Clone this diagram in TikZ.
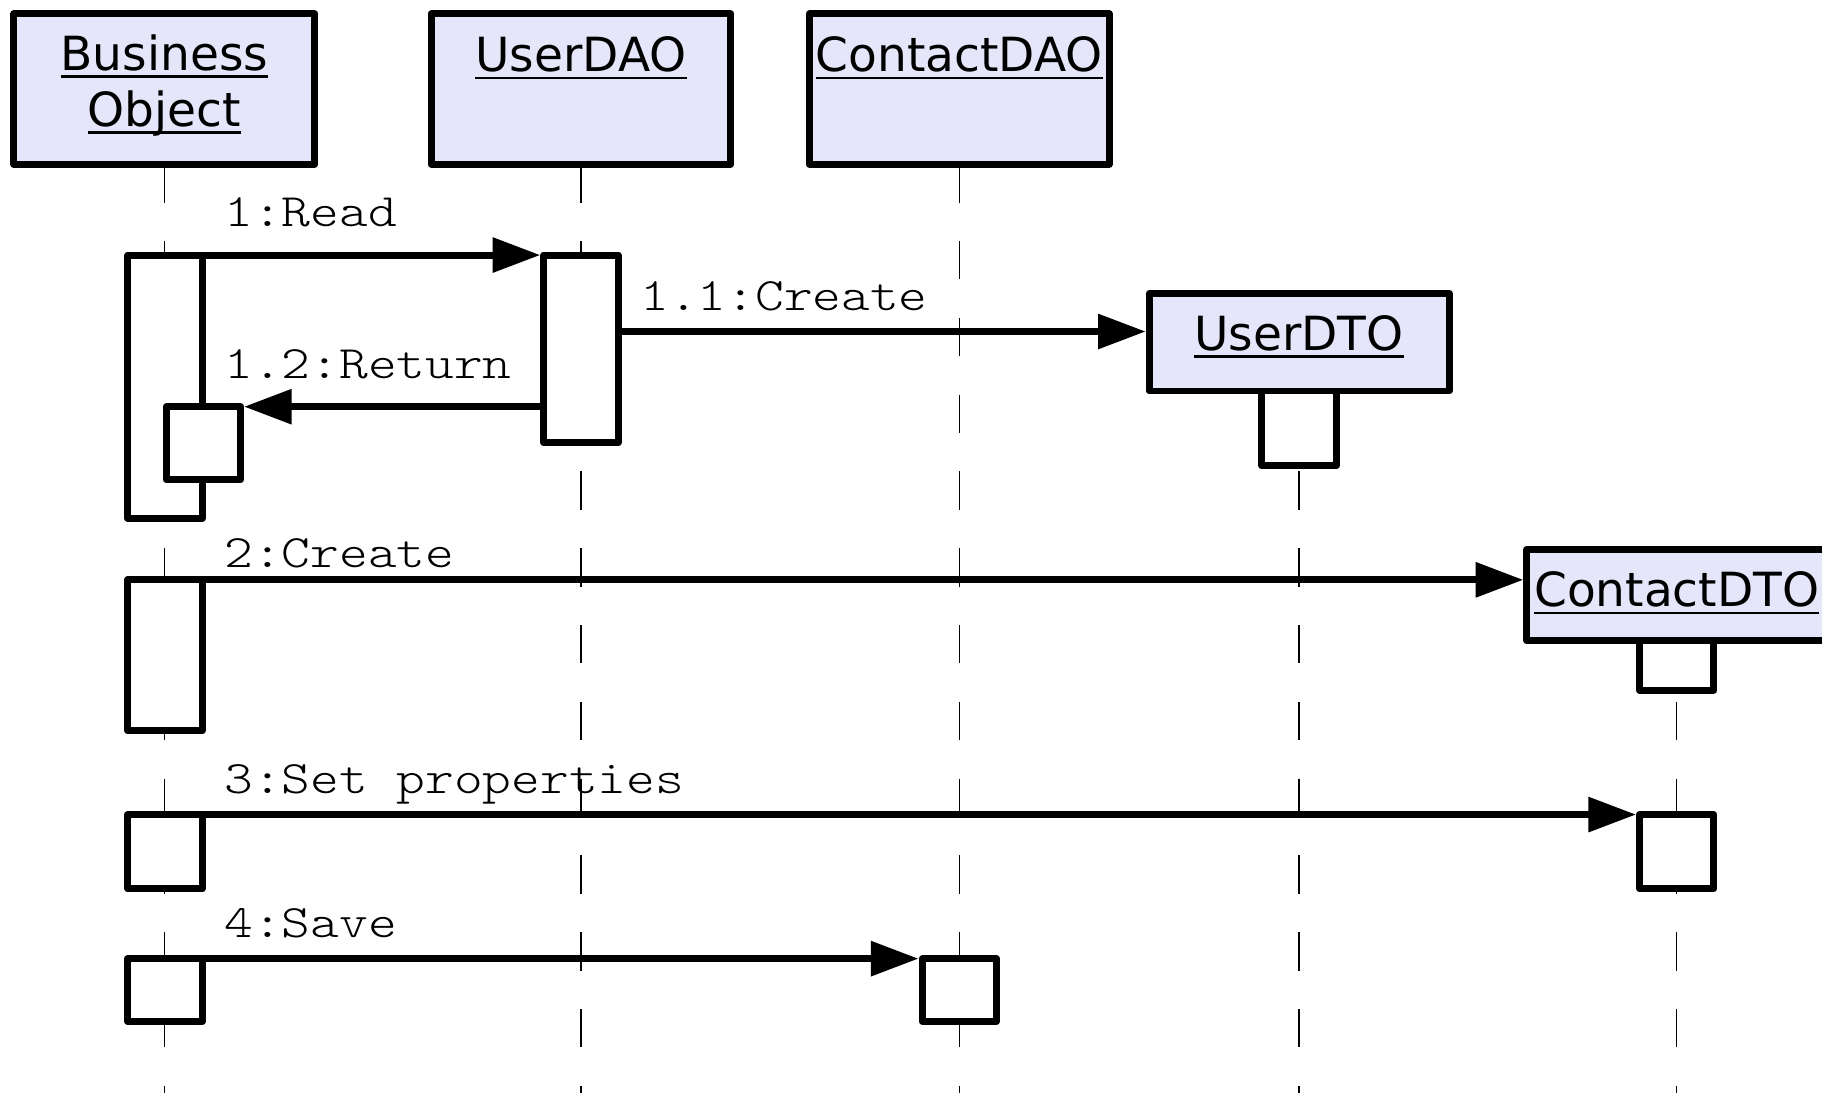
\documentclass[tikz,border=0pt]{standalone}
\usepackage{fontspec}
\usepackage{graphicx}
\usetikzlibrary{arrows.meta,backgrounds}
\newfontfamily\objfont{DejaVu Sans}
\newfontfamily\msgfont{lmmonolt10-regular.otf}
\definecolor{objfill}{RGB}{230,230,250}

% object names are underlined with a rule as wide as the word
\newcommand\ulname[1]{\setbox0=\hbox{#1}\rlap{\rule[-6.6pt]{\wd0}{2.2pt}}\box0}
% message texts: light typewriter, widened
\newcommand\mtext[1]{\scalebox{1.177}[1]{#1}}

\tikzset{
  objbox/.style={draw, line width=6pt, line join=round, fill=objfill,
    inner sep=0pt, outer sep=0pt, anchor=north west},
  actbox/.style={draw, line width=6pt, line join=round, fill=white,
    inner sep=0pt, outer sep=0pt, anchor=north west, minimum width=64pt},
  msg/.style={line width=6pt, -{Triangle[length=41pt,width=29pt]}, shorten >=3pt},
  objlabel/.style={anchor=base, inner sep=0pt,
    font=\objfont\fontsize{40.5}{48}\selectfont},
  msglabel/.style={anchor=base west, inner sep=0pt,
    font=\msgfont\fontsize{40}{40}\selectfont},
  lifeline/.style={line width=1.1pt, dash pattern=on 33pt off 33.1pt},
}

\begin{document}
\begin{tikzpicture}[x=1pt,y=-1pt]
\useasboundingbox (0,0) rectangle (1568,941);
\clip (0,0) rectangle (1568,941);
\coordinate (floor) at (0,941);

% object heads
\node[objbox, minimum width=259pt, minimum height=129.3pt] (bo)   at (12,12) {};
\node[objbox, minimum width=258pt, minimum height=129.3pt] (udao) at (371,12) {};
\node[objbox, minimum width=258pt, minimum height=129.3pt] (cdao) at (696.5,12) {};
\node[objbox, minimum width=258pt, minimum height=84pt]    (udto) at (989,252.5) {};
\node[objbox, minimum width=258pt, minimum height=78pt]    (cdto) at (1314,473) {};

\node[objlabel] (boL1)  at (141.5,60.5) {\ulname{Business}};
\node[objlabel] (boL2)  at (141.5,108.5) {\ulname{Object}};
\node[objlabel] (udaoL) at (500,61.5) {\ulname{UserDAO}};
\node[objlabel] (cdaoL) at (825.5,61.5) {\ulname{ContactDAO}};
\node[objlabel] (udtoL) at (1118,301.5) {\ulname{UserDTO}};
\node[objlabel] (cdtoL) at (1443,522) {\ulname{ContactDTO}};

% activation bars
\node[actbox, minimum height=226.5pt] (a1) at (110,219.5) {};
\node[actbox, minimum height=63pt]    (n1) at (143,350) {};
\node[actbox, minimum height=161.5pt] (u1) at (468,219.5) {};
\node[actbox, minimum height=64.5pt]  (ud1) at (1086,336.5) {};
\node[actbox, minimum height=130pt]   (a2) at (110,499) {};
\node[actbox, minimum height=43pt]    (c1) at (1411,551) {};
\node[actbox, minimum height=64pt]    (a3) at (110,701) {};
\node[actbox, minimum height=64pt]    (c2) at (1411,701) {};
\node[actbox, minimum height=54pt]    (a4) at (110,825) {};
\node[actbox, minimum height=54pt]    (k1) at (793.5,825) {};

% lifelines, all on one common dash grid
\begin{pgfonlayer}{background}
  \draw[lifeline] (bo.south)   -- (bo.south |- floor);
  \draw[lifeline] (udao.south) -- (udao.south |- floor);
  \draw[lifeline] (cdao.south) -- (cdao.south |- floor);
  \draw[lifeline, dash phase=61.4pt] (ud1.south) -- (ud1.south |- floor);
  \draw[lifeline, dash phase=56.1pt] (c1.south)  -- (c1.south |- floor);
\end{pgfonlayer}

% messages
\coordinate (m11) at ([yshift=9.2pt]udto.west);
\coordinate (m2)  at ([yshift=13pt]cdto.west);
\draw[msg] (a1.north east) -- (u1.north west);
\draw[msg] (u1.east |- m11) -- (m11);
\draw[msg] (u1.west |- n1.north east) -- (n1.north east);
\draw[msg] (a2.north east) -- (m2);
\draw[msg] (a3.north east) -- (c2.north west);
\draw[msg] (a4.north east) -- (k1.north west);

\node[msglabel] (t1)  at (193,195) {\mtext{1:Read}};
\node[msglabel] (t11) at (551,267) {\mtext{1.1:Create}};
\node[msglabel] (t12) at (193,326) {\mtext{1.2:Return}};
\node[msglabel] (t2)  at (193,488) {\mtext{2:Create}};
\node[msglabel] (t3)  at (193,683) {\mtext{3:Set properties}};
\node[msglabel] (t4)  at (193,807) {\mtext{4:Save}};
\end{tikzpicture}
\end{document}
